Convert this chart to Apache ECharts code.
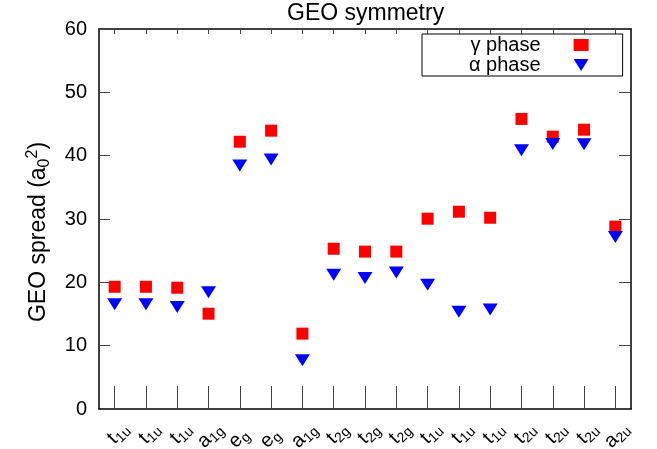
<!DOCTYPE html>
<html><head><meta charset="utf-8">
<script src="https://cdn.jsdelivr.net/npm/echarts@6/dist/echarts.min.js"></script>
<style>html,body{margin:0;padding:0;background:#fff}#c{width:657px;height:449px}</style>
</head><body><div id="c"></div>
<script>
// tick labels: main letter and its subscript
const mainLetters = ['t','t','t','a','e','e','a','t','t','t','t','t','t','t','t','t','a'];
const subscripts  = ['1u','1u','1u','1g','g','g','1g','2g','2g','2g','1u','1u','1u','2u','2u','2u','2u'];
const gammaPhase = [19.3,19.3,19.15,15.05,42.2,43.95,11.9,25.3,24.85,24.85,30.05,31.15,30.2,45.8,43.0,44.1,28.8];
const alphaPhase = [16.55,16.55,16.1,18.45,38.45,39.4,7.7,21.2,20.7,21.55,19.6,15.35,15.7,40.85,41.85,41.8,27.15];
const seriesNames = ['\u03b3 phase', '\u03b1 phase'];
const titleText = 'GEO symmetry';

const FONT = '"Liberation Sans", Arial, sans-serif';
const triPath = 'path://M0,0L15,0L7.5,12Z';

const chart = echarts.init(document.getElementById('c'));
const axisLineStyle = {color: '#000', width: 1.5};
const tickStyle = {color: '#444', width: 1};

chart.setOption({
  animation: false,
  title: {
    text: titleText, left: 287, top: 2, padding: 0,
    textStyle: {fontFamily: FONT, fontSize: 23, fontWeight: 'normal', color: '#000', lineHeight: 23}
  },
  grid: {left: 99, right: 26, top: 29, bottom: 40, outerBoundsMode: 'none'},
  legend: {
    orient: 'vertical', left: 422, top: 34, align: 'right',
    itemWidth: 15, itemHeight: 12, itemGap: 0,
    padding: [1, 34, 1, 47],
    borderColor: '#000', borderWidth: 1, borderRadius: 0,
    textStyle: {fontFamily: FONT, fontSize: 20, color: '#000', lineHeight: 19, padding: [0, 28, 0, 0]},
    data: [{name: seriesNames[0], icon: 'rect'}, {name: seriesNames[1], icon: triPath}]
  },
  xAxis: [{
    type: 'category', data: mainLetters, position: 'bottom',
    axisLine: {show: true, onZero: false, lineStyle: axisLineStyle},
    axisTick: {show: true, inside: true, alignWithLabel: true, interval: 0, length: 23, lineStyle: tickStyle},
    splitLine: {show: false},
    axisLabel: {interval: 0, rotate: 45, margin: 28, fontSize: 20, color: '#000'}
  }, {
    type: 'category', data: subscripts, position: 'bottom',
    axisLine: {show: false}, axisTick: {show: false}, splitLine: {show: false},
    axisLabel: {interval: 0, rotate: 45, margin: 28, fontSize: 14, color: '#000',
                align: 'left', verticalAlign: 'top', lineHeight: 10}
  }, {
    type: 'category', data: mainLetters, position: 'top',
    axisLine: {show: true, onZero: false, lineStyle: axisLineStyle},
    axisTick: {show: true, inside: true, alignWithLabel: true, interval: 0, length: 5, lineStyle: tickStyle},
    splitLine: {show: false}, axisLabel: {show: false}
  }],
  yAxis: [{
    type: 'value', min: 0, max: 60, interval: 10, position: 'left',
    axisLine: {show: true, onZero: false, lineStyle: axisLineStyle},
    axisTick: {show: true, inside: true, length: 11, lineStyle: tickStyle},
    splitLine: {show: false},
    axisLabel: {color: '#000', fontFamily: FONT, fontSize: 20, margin: 12},
    name: '{m|GEO spread (a}{s|0}{p|2}{m|)}', nameLocation: 'middle', nameRotate: 90, nameGap: 46,
    nameTextStyle: {
      color: '#000', fontFamily: FONT, fontSize: 23, padding: [0, 26, 0, 0],
      rich: {
        m: {fontSize: 23, fontFamily: FONT, color: '#000', lineHeight: 28, verticalAlign: 'middle'},
        s: {fontSize: 16, fontFamily: FONT, color: '#000', lineHeight: 16, verticalAlign: 'bottom'},
        p: {fontSize: 16, fontFamily: FONT, color: '#000', lineHeight: 16, verticalAlign: 'top'}
      }
    }
  }, {
    type: 'value', min: 0, max: 60, interval: 10, position: 'right',
    axisLine: {show: true, onZero: false, lineStyle: axisLineStyle},
    axisTick: {show: true, inside: true, length: 12, lineStyle: tickStyle},
    splitLine: {show: false}, axisLabel: {show: false}
  }],
  series: [{
    name: seriesNames[0], type: 'scatter', xAxisIndex: 0, yAxisIndex: 0,
    symbol: 'rect', symbolSize: 12,
    itemStyle: {color: '#ff0000', opacity: 1},
    data: gammaPhase.map((v, i) => [i, v]), z: 3
  }, {
    name: seriesNames[1], type: 'scatter', xAxisIndex: 0, yAxisIndex: 0,
    symbol: triPath, symbolSize: [15, 12],
    itemStyle: {color: '#0000ff', opacity: 1},
    data: alphaPhase.map((v, i) => [i, v]), z: 4
  }]
});
</script>
</body></html>
